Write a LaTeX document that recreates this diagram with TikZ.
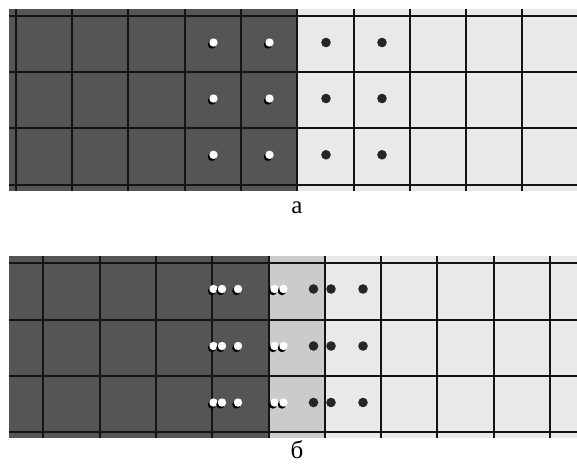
\documentclass[tikz,border=0pt]{standalone}
\usepackage{fontspec}
\setmainfont{Liberation Serif}
\definecolor{hot}{HTML}{555555}
\definecolor{mid}{HTML}{CBCBCB}
\definecolor{cold}{HTML}{E9E9E9}
\definecolor{gridc}{HTML}{141414}
\definecolor{ink}{HTML}{262626}
\begin{document}
\begin{tikzpicture}[x=1pt,y=-1pt]
    \tikzset{gridline/.style={draw=gridc,line width=2pt},
      hole/.style={fill=white},
      holeshade/.style={fill=black},
      electron/.style={fill=ink},
      caption/.style={font=\fontsize{25}{28}\selectfont,inner sep=0pt}}
    \useasboundingbox (0,0) rectangle (577,464);
    % panel a
    \fill[hot] (9,9) rectangle (297.3,191);
    \fill[cold] (297.3,9) rectangle (577,191);
    \foreach \k in {0,...,9}
      \draw[gridline] ({15.7+56.3*\k},9) -- ({15.7+56.3*\k},191);
    \foreach \y in {15.7,72,128.3,184.6}
      \draw[gridline] (9,\y) -- (577,\y);
    \foreach \y in {42.5,98.5,154.8} {
      \foreach \x in {213.5,269.5} {
        \fill[holeshade] (\x-1.6,\y+2) circle (4.2);
        \fill[hole] (\x,\y) circle (4.2);
      }
      \foreach \x in {326,382}
        \fill[electron] (\x,\y) circle (4.8);
    }
    \node[caption] (capA) at (297,208) {а};
    % panel b
    \fill[hot] (9,256) rectangle (268.7,438);
    \fill[mid] (268.7,256) rectangle (324.3,438);
    \fill[cold] (324.3,256) rectangle (577,438);
    \foreach \k in {0,...,9}
      \draw[gridline] ({43.3+56.3*\k},256) -- ({43.3+56.3*\k},438);
    \foreach \y in {263.3,319.5,375.8,432}
      \draw[gridline] (9,\y) -- (577,\y);
    \foreach \y in {289,346,402.5} {
      \foreach \x in {213.5,222,238,274.5,283.5} {
        \fill[holeshade] (\x-1.6,\y+2) circle (4.2);
        \fill[hole] (\x,\y) circle (4.2);
      }
      \foreach \x in {313.5,331,363}
        \fill[electron] (\x,\y) circle (4.8);
    }
    \node[caption] (capB) at (297,450) {б};
\end{tikzpicture}
\end{document}
